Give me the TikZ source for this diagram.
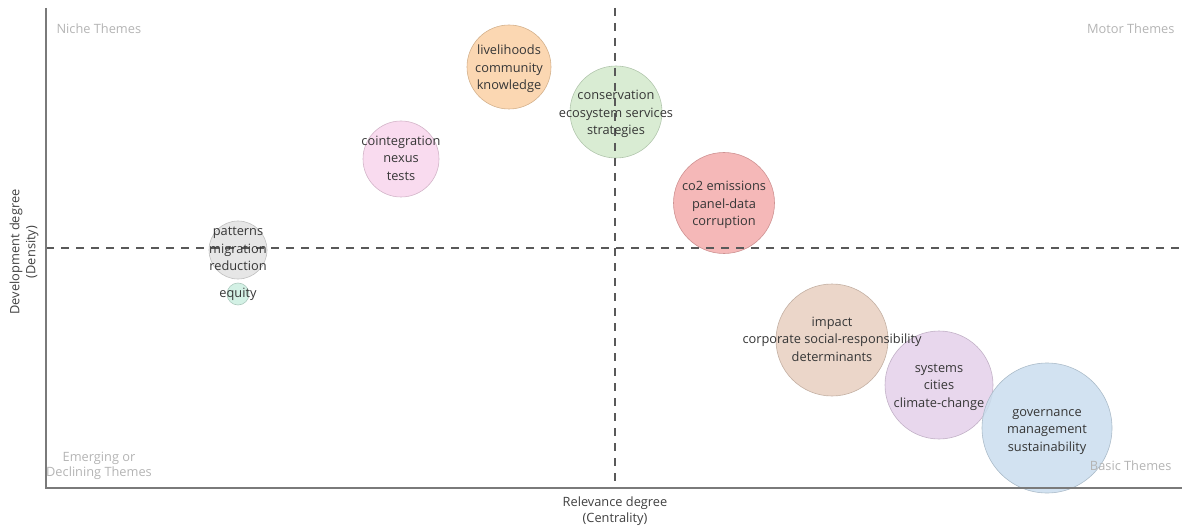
\documentclass[tikz,border=0pt]{standalone}
\usepackage{fontspec}
\setmainfont{Open Sans}
\usepackage{xcolor}
\usetikzlibrary{positioning}

\definecolor{cOrange}{HTML}{FAD0A5}
\definecolor{cGreen}{HTML}{D2E9CB}
\definecolor{cPink}{HTML}{F8D5EC}
\definecolor{cRed}{HTML}{F3ACAC}
\definecolor{cGrey}{HTML}{E2E2E2}
\definecolor{cTeal}{HTML}{CBEEE0}
\definecolor{cBrown}{HTML}{E7CFC0}
\definecolor{cPurple}{HTML}{E4D0EA}
\definecolor{cBlue}{HTML}{CADDEE}
\definecolor{txtDark}{HTML}{363636}
\definecolor{txtQuad}{HTML}{B4B4B4}
\definecolor{axisGrey}{HTML}{7A7A7A}

\begin{document}
\begin{tikzpicture}[
			     x=1pt, y=-1pt,
			     bubble/.style={circle, inner sep=0pt, fill=#1, draw=#1!85!black, line width=0.6pt, fill opacity=0.85},
			     theme/.style={align=center, text=txtDark, font=\fontsize{12.8}{17.5}\selectfont},
			     quadrant/.style={text=txtQuad, font=\fontsize{12.8}{15.5}\selectfont},
			     axis title/.style={align=center, text=black!75, font=\fontsize{12.8}{16}\selectfont},
			     axis line/.style={draw=axisGrey, line width=1.4pt},
			     split line/.style={draw=black!65, line width=1.3pt, dash pattern=on 8pt off 7pt}
			     ]
\useasboundingbox (0,0) rectangle (1182,529);
% bubbles
\node[bubble=cOrange, minimum size=84pt] (livelihoods) at (509,67) {};
\node[bubble=cGreen, minimum size=92pt] (conservation) at (616,112) {};
\node[bubble=cPink, minimum size=76pt] (cointegration) at (401,159) {};
\node[bubble=cRed, minimum size=101pt] (co2) at (724,203) {};
\node[bubble=cGrey, minimum size=58pt] (patterns) at (238,250) {};
\node[bubble=cTeal, minimum size=22pt] (equity) at (238,294) {};
\node[bubble=cBrown, minimum size=112pt] (impact) at (832,340) {};
\node[bubble=cPurple, minimum size=108pt] (systems) at (939,385) {};
\node[bubble=cBlue, minimum size=130pt] (governance) at (1047,428) {};
%
% axes and quadrant split
\coordinate (origin) at (46,488);
\coordinate (ytop) at (46,8);
\coordinate (xend) at (1182,488);
\coordinate (hsplitL) at (46,248);
\coordinate (hsplitR) at (1182,248);
\coordinate (vsplitT) at (615,8);
\coordinate (vsplitB) at (615,488);
\path[split line] (hsplitL) -- (hsplitR);
\path[split line] (vsplitT) -- (vsplitB);
\path[axis line] (ytop) -- (origin) -- (xend);
%
% theme labels
\node[theme] at ([yshift=-2pt]livelihoods) {livelihoods\\community\\knowledge};
\node[theme] at ([yshift=-2pt]conservation) {conservation\\ecosystem services\\strategies};
\node[theme] at ([yshift=1pt]cointegration) {cointegration\\nexus\\tests};
\node[theme] at ([yshift=-2pt]co2) {co2 emissions\\panel-data\\corruption};
\node[theme] at ([yshift=1pt]patterns) {patterns\\migration\\reduction};
\node[theme] at (equity) {equity};
\node[theme] at ([yshift=1pt]impact) {impact\\corporate social-responsibility\\determinants};
\node[theme] at ([yshift=-2pt]systems) {systems\\cities\\climate-change};
\node[theme] at ([yshift=-4pt]governance) {governance\\management\\sustainability};
%
% quadrant names
\node[quadrant, anchor=west] (niche) at (53,29) {Niche Themes};
\node[quadrant, anchor=east] (motor) at (1178,29) {Motor Themes};
\node[quadrant, align=center] (emerging) at (99,466) {Emerging or\\Declining Themes};
\node[quadrant, anchor=east] (basic) at (1175,466) {Basic Themes};
%
% axis titles
\node[axis title, rotate=90] (ylabel) at (24,252) {Development degree\\(Density)};
\node[axis title] (xlabel) at (615,511) {Relevance degree\\(Centrality)};
\end{tikzpicture}
\end{document}
